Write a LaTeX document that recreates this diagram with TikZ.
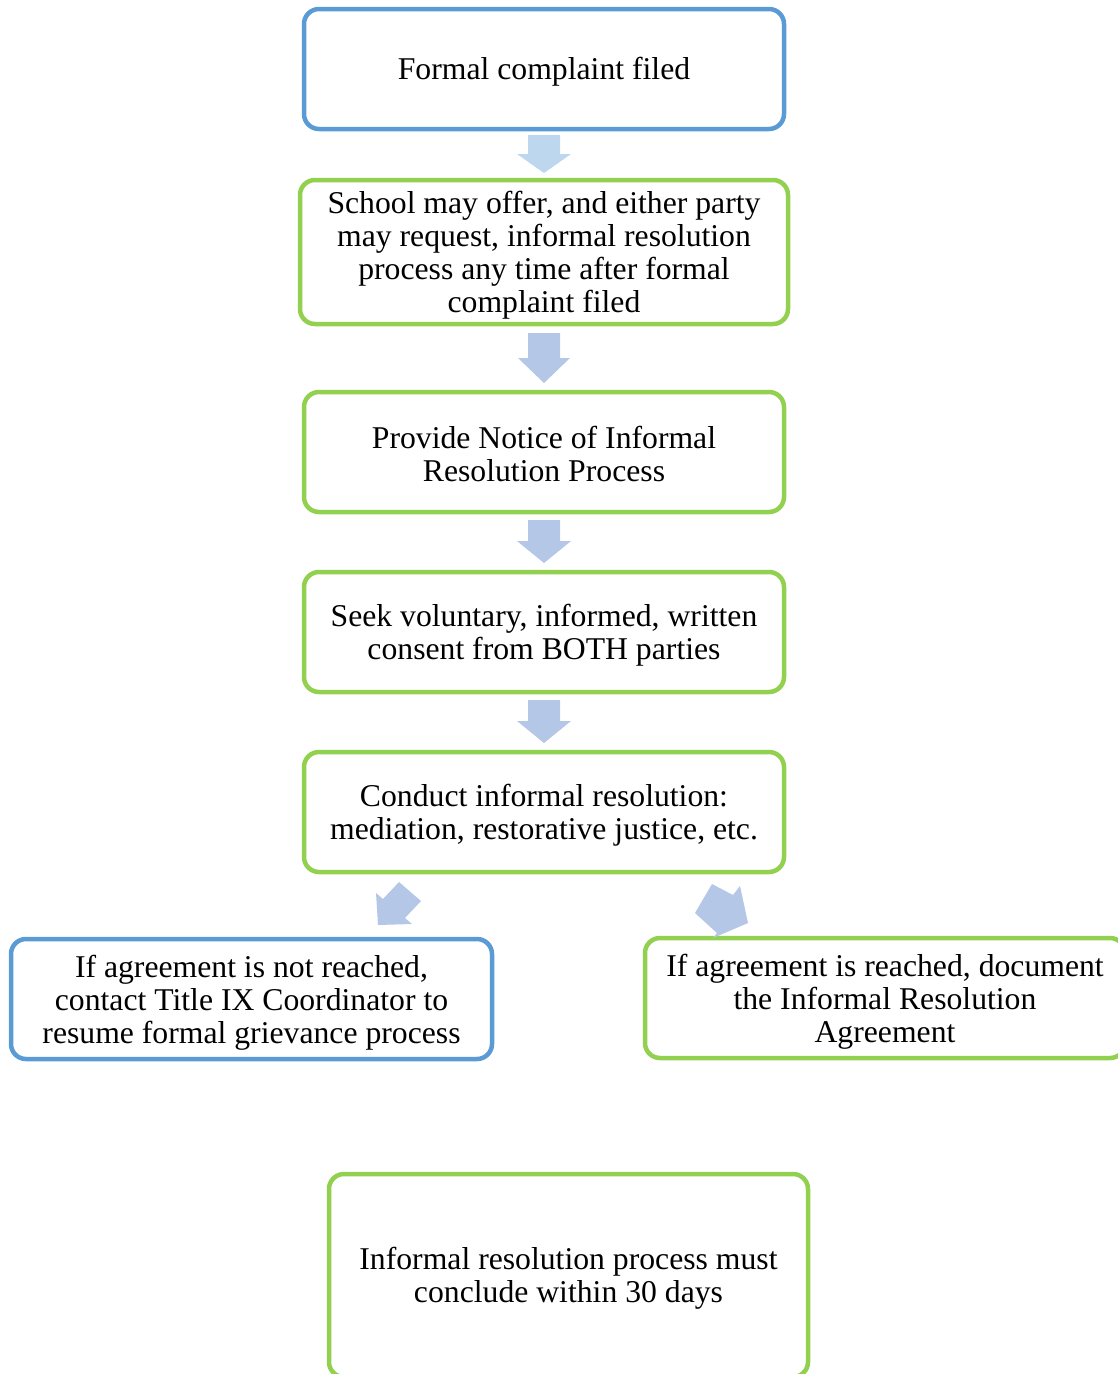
\documentclass[tikz,border=0pt]{standalone}
\usepackage{fontspec}
\setmainfont{Liberation Serif}
\definecolor{bblue}{RGB}{91,155,213}
\definecolor{bgreen}{RGB}{146,208,80}
\definecolor{arrA}{RGB}{189,215,238}
\definecolor{arrB}{RGB}{180,199,231}
\begin{document}
\begin{tikzpicture}[x=1pt,y=-1pt,
  box/.style={draw, line width=4.5pt, rounded corners=15pt, inner sep=0pt, fill=white},
  bluebox/.style={box, draw=bblue},
  greenbox/.style={box, draw=bgreen},
  txt/.style={align=center, font=\fontsize{31.7}{33}\selectfont, inner sep=0pt},
  blockarr/.style={fill=arrB, draw=none}]
\useasboundingbox (0,0) rectangle (1118,1374);
\clip (0,0) rectangle (1118,1374);

\node[bluebox, minimum width=480pt, minimum height=120pt] (n1) at (544,69) {};
\node[txt] (t1) at ([yshift=-3pt]n1.center) {Formal complaint filed};
\node[greenbox, minimum width=488pt, minimum height=144pt] (n2) at (544,252) {};
\node[txt] (t2) at ([yshift=-3pt]n2.center)
  {School may offer, and either party\\may request, informal resolution\\process any time after formal\\complaint filed};
\node[greenbox, minimum width=480pt, minimum height=120pt] (n3) at (544,452) {};
\node[txt] (t3) at ([yshift=-2pt]n3.center)
  {Provide Notice of Informal\\Resolution Process};
\node[greenbox, minimum width=480pt, minimum height=120pt] (n4) at (544,632) {};
\node[txt] (t4) at ([yshift=-3pt]n4.center)
  {Seek voluntary, informed, written\\consent from BOTH parties};
\node[greenbox, minimum width=480pt, minimum height=120pt] (n5) at (544,812) {};
\node[txt] (t5) at ([yshift=-3pt]n5.center)
  {Conduct informal resolution:\\mediation, restorative justice, etc.};
\node[bluebox, minimum width=481pt, minimum height=120pt] (n6) at (251.5,999) {};
\node[txt] (t6) at ([yshift=-3.5pt]n6.center)
  {If agreement is not reached,\\contact Title IX Coordinator to\\resume formal grievance process};
\node[greenbox, minimum width=480pt, minimum height=120pt] (n7) at (885,998) {};
\node[txt] (t7) at ([yshift=-4pt]n7.center)
  {If agreement is reached, document\\the Informal Resolution\\Agreement};
\node[greenbox, minimum width=479pt, minimum height=203pt] (n8) at (568.5,1275.5) {};
\node[txt] (t8) at ([yshift=-3pt]n8.center)
  {Informal resolution process must\\conclude within 30 days};

% block arrows between boxes
\fill[blockarr, fill=arrA] (528,135) -- (560,135) -- (560,154) -- (571,154) -- (544,173) -- (517,154) -- (528,154) -- cycle;
\fill[blockarr] (528,333) -- (560,333) -- (560,358) -- (570,358) -- (544,383) -- (518,358) -- (528,358) -- cycle;
\fill[blockarr] (528,520) -- (560,520) -- (560,541) -- (571,541) -- (544,563) -- (517,541) -- (528,541) -- cycle;
\fill[blockarr] (528,700) -- (560,700) -- (560,721) -- (571,721) -- (544,743) -- (517,721) -- (528,721) -- cycle;
\fill[blockarr] (399,882) -- (421,901) -- (405,918) -- (412,924) -- (378,925) -- (376,893) -- (383,899) -- cycle;
\fill[blockarr] (712,884) -- (733,895) -- (740,886) -- (748,923) -- (713,938) -- (717,933) -- (695,913) -- cycle;
\end{tikzpicture}
\end{document}
